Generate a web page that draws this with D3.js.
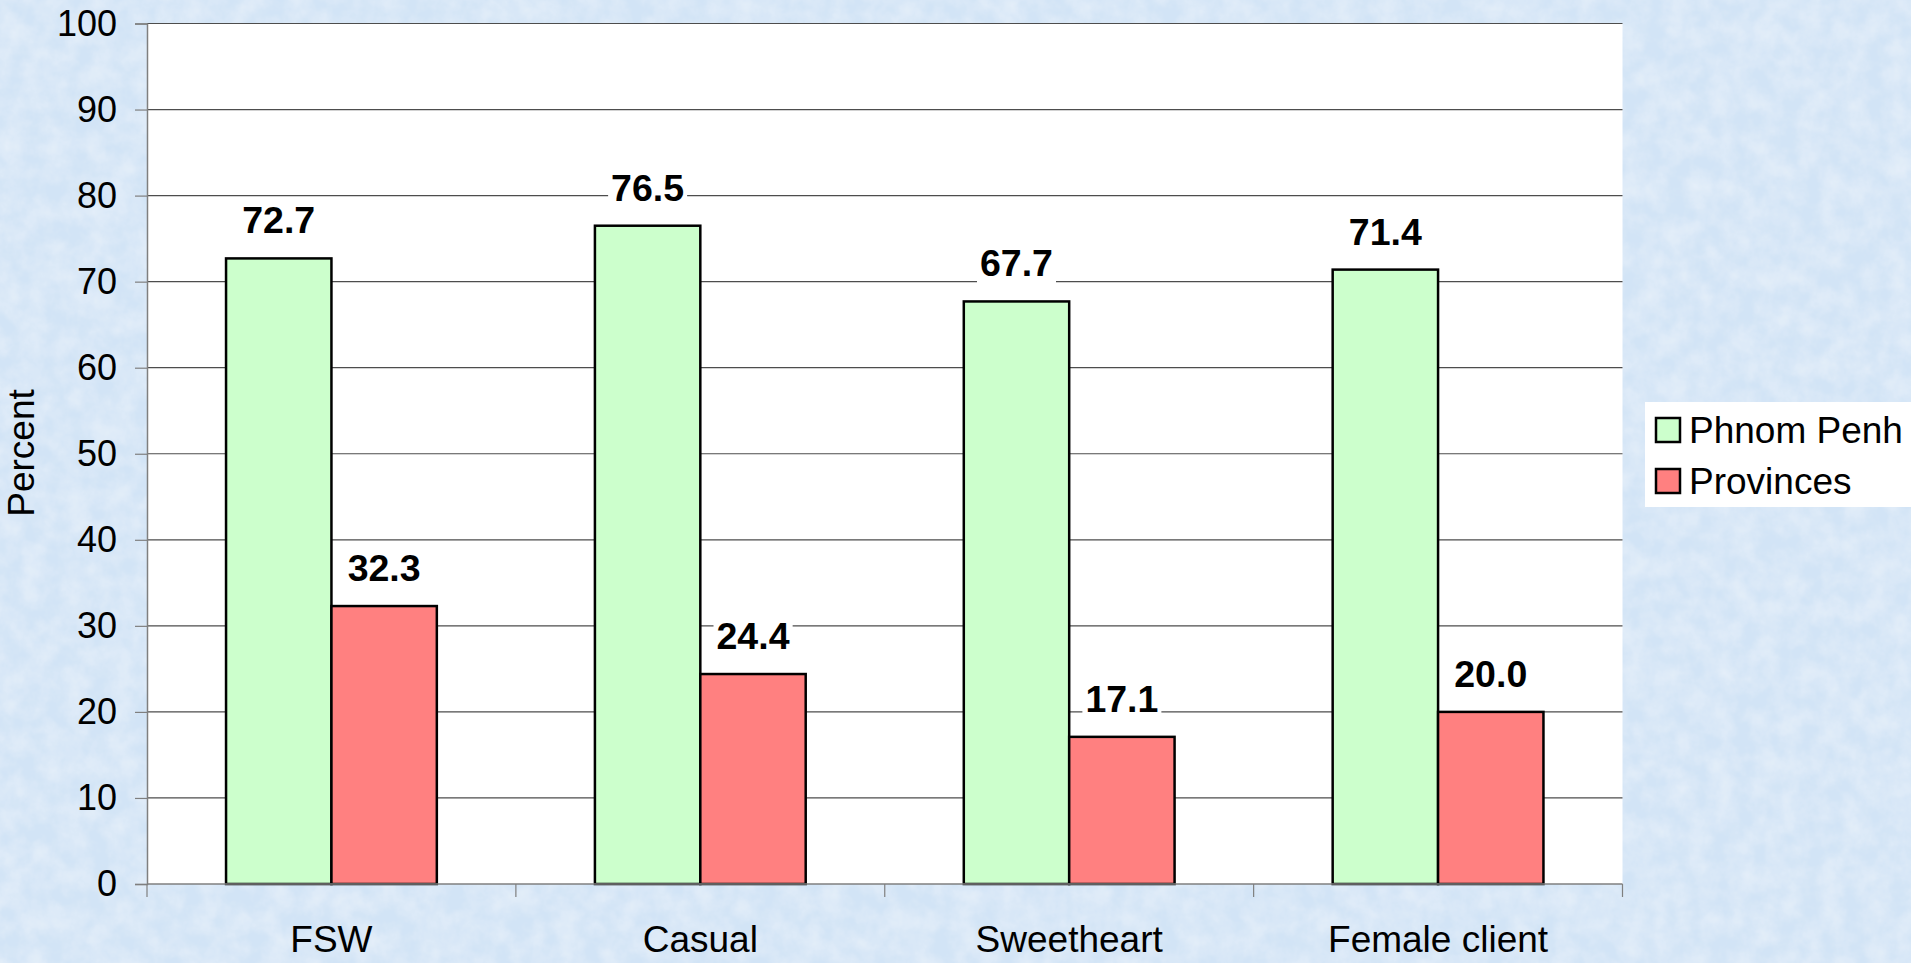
<!DOCTYPE html>
<html>
<head>
<meta charset="utf-8">
<script src="https://cdn.jsdelivr.net/npm/d3@7"></script>
<style>
  html, body { margin: 0; padding: 0; overflow: hidden; background: #d6e6f6; }
  svg { display: block; font-family: "Liberation Sans", Arial, sans-serif; }
</style>
</head>
<body>
<svg id="chart" width="1911" height="963"></svg>
<script>
const categories = ["FSW", "Casual", "Sweetheart", "Female client"];
const seriesNames = ["Phnom Penh", "Provinces"];
const phnomPenh = [72.7, 76.5, 67.7, 71.4];
const provinces = [32.3, 24.4, 17.1, 20.0];
const yTicks = [0, 10, 20, 30, 40, 50, 60, 70, 80, 90, 100];
const seriesColors = ["#ccffcc", "#ff8080"];
const yTitle = "Percent";

const seriesValues = [phnomPenh, provinces];
const W = 1911, H = 963;
const plot = { left: 147, right: 1622.5, top: 23.5, bottom: 884 };

const svg = d3.select("#chart");
const defs = svg.append("defs");

// fine mottled light-blue background
const f = defs.append("filter").attr("id", "marble")
  .attr("x", 0).attr("y", 0).attr("width", "100%").attr("height", "100%");
f.append("feTurbulence").attr("type", "fractalNoise")
  .attr("baseFrequency", "0.045").attr("numOctaves", 4).attr("seed", 3).attr("result", "noise");
f.append("feColorMatrix").attr("in", "noise").attr("type", "matrix")
  .attr("values", "0 0 0 0 1  0 0 0 0 1  0 0 0 0 1  1.1 0 0 0 -0.3").attr("result", "white");
f.append("feComposite").attr("in", "white").attr("in2", "SourceGraphic").attr("operator", "over");

svg.append("rect").attr("width", W).attr("height", H).attr("fill", "#d2e4f6");
svg.append("rect").attr("width", W).attr("height", H).attr("fill", "#d2e4f6")
  .attr("filter", "url(#marble)").attr("opacity", 0.55);

// plot area
svg.append("rect")
  .attr("x", plot.left).attr("y", plot.top)
  .attr("width", plot.right - plot.left).attr("height", plot.bottom - plot.top)
  .attr("fill", "#ffffff");

const x0 = d3.scaleBand().domain(categories).range([plot.left, plot.right]).paddingInner(0).paddingOuter(0);
const x1 = d3.scaleBand().domain(seriesNames).range([0, x0.bandwidth()]).paddingInner(0).paddingOuter(0.75);
const y = d3.scaleLinear().domain([0, 100]).range([plot.bottom, plot.top]);

// gridlines
svg.append("g").selectAll("line").data(yTicks.filter(d => d > 0)).join("line")
  .attr("x1", plot.left).attr("x2", plot.right)
  .attr("y1", d => y(d)).attr("y2", d => y(d))
  .attr("stroke", "#4d4d4d").attr("stroke-width", 1.2);

// y axis
const yAxis = svg.append("g").attr("transform", `translate(${plot.left},0)`)
  .call(d3.axisLeft(y).tickValues(yTicks).tickSize(12).tickPadding(18).tickFormat(d3.format("d")));
yAxis.select(".domain").attr("stroke", "#7f7f7f").attr("stroke-width", 1.5);
yAxis.selectAll(".tick line").attr("stroke", "#7f7f7f").attr("stroke-width", 1.2);
yAxis.selectAll(".tick text").attr("font-size", 36).attr("fill", "#000")
  .attr("font-family", "'Liberation Sans', Arial, sans-serif");

// bars
const groups = svg.append("g").selectAll("g").data(categories).join("g")
  .attr("transform", d => `translate(${x0(d)},0)`);
groups.selectAll("rect").data((c, i) => seriesNames.map((s, j) => ({ s, j, v: seriesValues[j][i] })))
  .join("rect")
  .attr("x", d => x1(d.s)).attr("width", x1.bandwidth())
  .attr("y", d => y(d.v)).attr("height", d => y(0) - y(d.v))
  .attr("fill", d => seriesColors[d.j])
  .attr("stroke", "#000").attr("stroke-width", 2.5);

// x axis
const xAxisG = svg.append("g");
xAxisG.append("line").attr("x1", plot.left).attr("x2", plot.right)
  .attr("y1", plot.bottom).attr("y2", plot.bottom)
  .attr("stroke", "#7f7f7f").attr("stroke-width", 1.5);
const bounds = categories.map(c => x0(c)).concat([x0(categories[categories.length - 1]) + x0.bandwidth()]);
xAxisG.selectAll("line.tk").data(bounds).join("line").attr("class", "tk")
  .attr("x1", d => d).attr("x2", d => d)
  .attr("y1", plot.bottom).attr("y2", plot.bottom + 13)
  .attr("stroke", "#7f7f7f").attr("stroke-width", 1.2);
xAxisG.selectAll("text").data(categories).join("text")
  .attr("x", d => x0(d) + x0.bandwidth() / 2).attr("y", 952)
  .attr("text-anchor", "middle").attr("font-size", 37).attr("fill", "#000").text(d => d);

// data labels with white background
const labels = svg.append("g");
categories.forEach((c, i) => {
  seriesNames.forEach((s, j) => {
    const v = seriesValues[j][i];
    const cx = x0(c) + x1(s) + x1.bandwidth() / 2;
    const by = y(v) - 25;
    const g = labels.append("g");
    const t = g.append("text").attr("x", cx).attr("y", by)
      .attr("text-anchor", "middle").attr("font-size", 37.5).attr("font-weight", "bold")
      .attr("fill", "#000").text(v.toFixed(1));
    const bb = t.node().getBBox();
    g.insert("rect", "text").attr("x", bb.x - 3).attr("y", bb.y + 3)
      .attr("width", bb.width + 6).attr("height", bb.height - 3).attr("fill", "#fff");
  });
});

// y axis title
svg.append("text").attr("transform", `translate(34,453) rotate(-90)`)
  .attr("text-anchor", "middle").attr("font-size", 37).attr("fill", "#000").text(yTitle);

// legend
const lg = svg.append("g");
lg.append("rect").attr("x", 1645).attr("y", 402).attr("width", 280).attr("height", 105).attr("fill", "#fff");
seriesNames.forEach((s, j) => {
  const yy = 418 + j * 51;
  lg.append("rect").attr("x", 1656).attr("y", yy).attr("width", 24).attr("height", 24)
    .attr("fill", seriesColors[j]).attr("stroke", "#000").attr("stroke-width", 2.5);
  lg.append("text").attr("x", 1689).attr("y", yy + 25).attr("font-size", 37).attr("fill", "#000").text(s);
});
</script>
</body>
</html>
